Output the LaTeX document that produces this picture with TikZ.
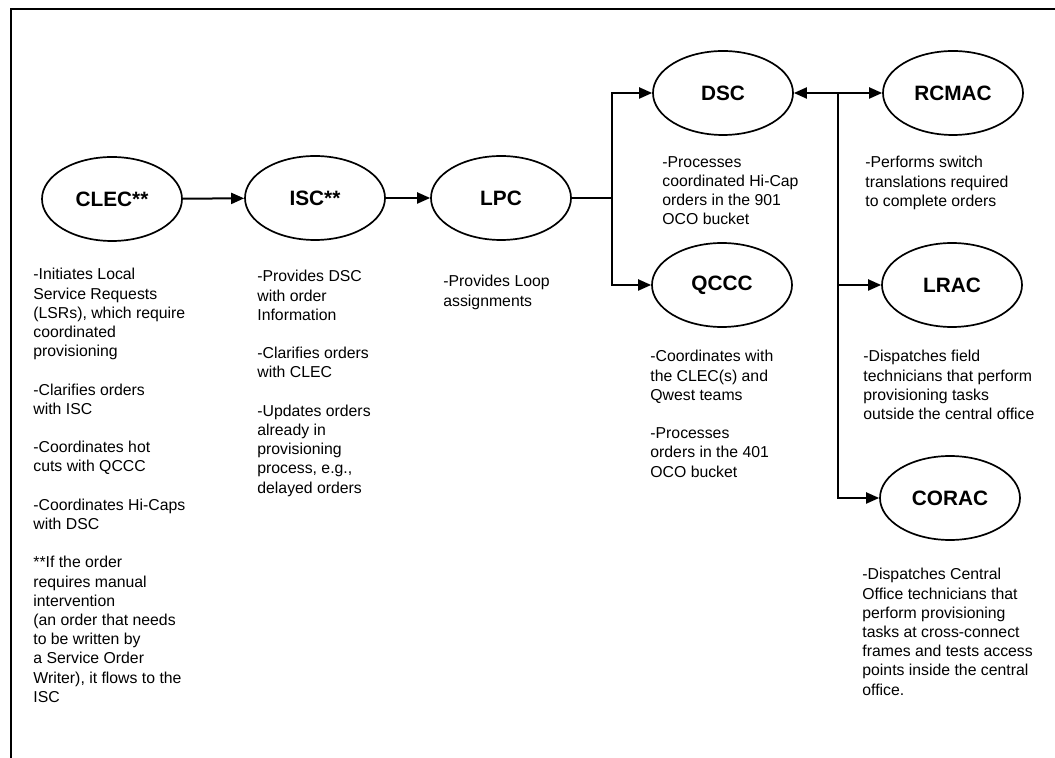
\documentclass[tikz,border=0pt]{standalone}
\usepackage{fontspec}
\setmainfont{Liberation Sans}
\usetikzlibrary{arrows.meta,shapes.geometric}

\tikzset{
  unitnode/.style={ellipse,draw,line width=0.85pt,minimum width=70pt,minimum height=42pt,inner sep=0pt,font=\fontsize{10.4}{12}\selectfont\bfseries},
  notetext/.style={anchor=north west,align=left,inner sep=0pt,font=\fontsize{7.9}{9.6}\selectfont},
  flowline/.style={line width=1pt,-{Triangle[length=6.5pt,width=5.5pt]}},
}

\begin{document}
\begin{tikzpicture}[x=0.5pt,y=-0.5pt]
\useasboundingbox (0,0) rectangle (1055,758);
\draw[line width=0.8pt] (11,758) -- (11,9) -- (1055,9);

% centres
\node[unitnode] (clec) at (112,199) {CLEC**};
\node[unitnode] (isc) at (315,198) {ISC**};
\node[unitnode] (lpc) at (501,198) {LPC};
\node[unitnode] (dsc) at (723,93) {DSC};
\node[unitnode] (qccc) at (722,285) {QCCC};
\node[unitnode] (rcmac) at (953,93) {RCMAC};
\node[unitnode] (lrac) at (952,285) {LRAC};
\node[unitnode] (corac) at (950,498) {CORAC};

\coordinate (split) at (612,198);
\coordinate (hub) at (838,93);

\draw[flowline] (clec) -- (isc);
\draw[flowline] (isc) -- (lpc);
\draw[line width=1pt] (lpc) -- (split);
\draw[flowline] (split) |- (dsc);
\draw[flowline] (split) |- (qccc);
\draw[flowline] (hub) -- (dsc);
\draw[flowline] (hub) -- (rcmac);
\draw[flowline] (hub) |- (lrac);
\draw[flowline] (hub) |- (corac);

% descriptions
\node[notetext] (clecnote) at (33,268) {-Initiates Local\\Service Requests\\(LSRs), which require\\coordinated\\provisioning\\[9.6pt]
-Clarifies orders\\with ISC\\[9.6pt]
-Coordinates hot\\cuts with QCCC\\[9.6pt]
-Coordinates Hi-Caps\\with DSC\\[9.6pt]
**If the order\\requires manual\\intervention\\(an order that needs\\to be written by\\a Service Order\\Writer), it flows to the\\ISC};
\node[notetext] (iscnote) at (257,270) {-Provides DSC\\with order\\Information\\[9.6pt]
-Clarifies orders\\with CLEC\\[9.6pt]
-Updates orders\\already in\\provisioning\\process, e.g.,\\delayed orders};
\node[notetext] (lpcnote) at (443,275) {-Provides Loop\\assignments};
\node[notetext] (dscnote) at (662,156) {-Processes\\coordinated Hi-Cap\\orders in the 901\\OCO bucket};
\node[notetext] (rcmacnote) at (865,156) {-Performs switch\\translations required\\to complete orders};
\node[notetext] (qcccnote) at (650,350) {-Coordinates with\\the CLEC(s) and\\Qwest teams\\[9.6pt]
-Processes\\orders in the 401\\OCO bucket};
\node[notetext] (lracnote) at (863,350) {-Dispatches field\\technicians that perform\\provisioning tasks\\outside the central office};
\node[notetext] (coracnote) at (862,568) {-Dispatches Central\\Office technicians that\\perform provisioning\\tasks at cross-connect\\frames and tests access\\points inside the central\\office.};
\end{tikzpicture}
\end{document}
